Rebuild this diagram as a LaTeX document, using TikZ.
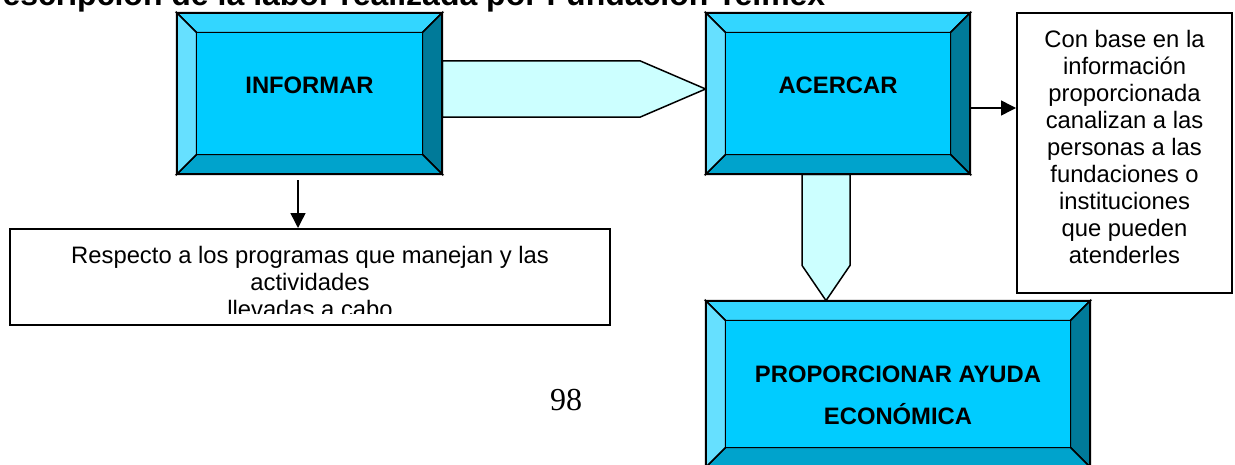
\documentclass[tikz,border=0pt]{standalone}
\usepackage{fontspec}
\setmainfont{Liberation Sans}
\newfontfamily\pagenumfont{Liberation Serif}
\usetikzlibrary{calc,arrows.meta}
\definecolor{cTop}{RGB}{51,214,255}
\definecolor{cFace}{RGB}{0,204,255}
\definecolor{cLeft}{RGB}{102,224,255}
\definecolor{cBot}{RGB}{0,163,204}
\definecolor{cRight}{RGB}{0,122,153}
\definecolor{cArrow}{RGB}{204,255,255}
\tikzset{
  boxshape/.style={rectangle, inner sep=0pt, draw=none},
  bev/.style={draw=black, line width=0.75pt, line join=miter},
  outer/.style={draw=black, line width=1pt},
  blk/.style={draw=black, fill=cArrow, line width=0.75pt, line join=miter},
  conn/.style={draw=black, line width=0.75pt, -{Triangle[length=7.5pt,width=7.5pt]}},
  textbox/.style={rectangle, inner sep=0pt, draw=black, line width=1pt, fill=white},
  bigtxt/.style={font=\fontsize{11.9}{21}\selectfont\bfseries, align=center, inner sep=0pt},
  smalltxt/.style={font=\fontsize{11.9}{13.5}\selectfont, align=center, inner sep=0pt},
}
\newcommand\bevbox[1]{%
  \coordinate (#1-a) at ($(#1.north west)+(20,20)$);
  \coordinate (#1-b) at ($(#1.north east)+(-20,20)$);
  \coordinate (#1-c) at ($(#1.south east)+(-20,-20)$);
  \coordinate (#1-d) at ($(#1.south west)+(20,-20)$);
  \filldraw[bev,fill=cTop] (#1.north west) -- (#1.north east) -- (#1-b) -- (#1-a) -- cycle;
  \filldraw[bev,fill=cRight] (#1.north east) -- (#1.south east) -- (#1-c) -- (#1-b) -- cycle;
  \filldraw[bev,fill=cBot] (#1.south east) -- (#1.south west) -- (#1-d) -- (#1-c) -- cycle;
  \filldraw[bev,fill=cLeft] (#1.south west) -- (#1.north west) -- (#1-a) -- (#1-d) -- cycle;
  \filldraw[bev,fill=cFace] (#1-a) rectangle (#1-c);
  \draw[outer] (#1.north west) rectangle (#1.south east);
}
\begin{document}
\begin{tikzpicture}[x=0.5pt,y=-0.5pt]
\useasboundingbox (0,0) rectangle (1235,465);
% title (cut at the top)
\node[anchor=base west, inner sep=0pt, font=\fontsize{16}{18}\selectfont\bfseries] (title) at (-21,6) {Descripción de la labor realizada por Fundación Telmex};
% box nodes
\node[boxshape, minimum width=132.5pt, minimum height=80.5pt] (informar) at (309.5,93.5) {};
\node[boxshape, minimum width=132pt, minimum height=80.5pt] (acercar) at (838,93.5) {};
\node[boxshape, minimum width=192pt, minimum height=83pt] (prop) at (898,384) {};
\node[textbox, minimum width=107.5pt, minimum height=140pt] (canal) at (1124.5,153) {};
\node[textbox, minimum width=300pt, minimum height=48pt] (respecto) at (310,277) {};
% block arrows
\coordinate (h0) at ($(informar.east)+(0,-4.5)$);
\filldraw[blk] ($(h0)+(0,-28)$) -- ($(h0)+(198,-28)$) -- (h0 -| acercar.west) -- ($(h0)+(198,28)$) -- ($(h0)+(0,28)$) -- cycle;
\coordinate (v0) at ($(acercar.south)+(-12,0)$);
\filldraw[blk] ($(v0)+(-24,0)$) -- ($(v0)+(-24,91)$) -- (v0 |- prop.north) -- ($(v0)+(24,91)$) -- ($(v0)+(24,0)$) -- cycle;
% bevelled boxes
\bevbox{informar}
\bevbox{acercar}
\bevbox{prop}
% labels
\node[bigtxt] (informar-t) at (309.5,85.5) {INFORMAR};
\node[bigtxt] (acercar-t) at (838,85.5) {ACERCAR};
\node[bigtxt] (prop-t) at (898,395.5) {PROPORCIONAR AYUDA\\ECONÓMICA};
\node[smalltxt] (canal-t) at (1124.5,146.5) {Con base en la\\información\\proporcionada\\canalizan a las\\personas a las\\fundaciones o\\instituciones\\que pueden\\atenderles};
\begin{scope}
  \clip (10,229) rectangle (610,313);
  \node[smalltxt] (respecto-t) at (310,281.5) {Respecto a los programas que manejan y las\\actividades\\llevadas a cabo};
\end{scope}
% connectors
\coordinate (ar) at ($(acercar.east)+(0,14.5)$);
\draw[conn] (ar) -- (ar -| canal.west);
\coordinate (d0) at ($(informar.south)+(-11.5,6)$);
\draw[conn] (d0) -- (d0 |- respecto.north);
% page number
\node[inner sep=0pt, font=\pagenumfont\fontsize{16}{18}\selectfont] (pagenum) at (566,400) {98};
\end{tikzpicture}
\end{document}
